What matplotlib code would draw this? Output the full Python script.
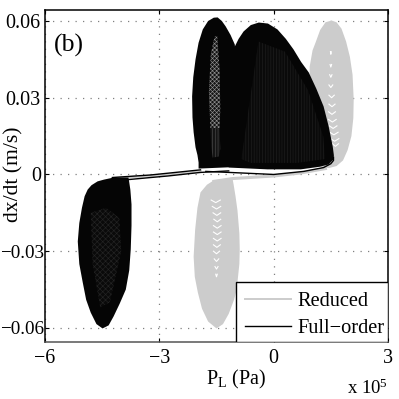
import matplotlib
matplotlib.use("Agg")
import matplotlib.pyplot as plt
from matplotlib.patches import Rectangle
from matplotlib.transforms import ScaledTranslation

plt.rcParams['font.family'] = ['Liberation Serif', 'DejaVu Serif']
plt.rcParams['mathtext.fontset'] = 'custom'
plt.rcParams['mathtext.rm'] = 'Liberation Serif'
plt.rcParams['mathtext.default'] = 'rm'
plt.rcParams['hatch.linewidth'] = 0.45

x_ticks = [-6, -3, 0, 3]
x_tick_labels = ['\u22126', '\u22123', '0', '3']
y_ticks = [-0.06, -0.03, 0, 0.03, 0.06]
y_tick_labels = ['\u22120.06', '\u22120.03', '0', '0.03', '0.06']

# Envelope outlines of the phase portraits (x in 1e5 Pa, y in m/s)
gray_up_x = [1.52, 1.65, 1.78, 1.90, 2.00, 2.07, 2.10, 2.09, 2.04, 1.94, 1.82, 1.65, 1.45, 1.20, 0.95, 0.95, 0.94, 0.945, 1.02, 1.10, 1.22, 1.36]
gray_up_y = [0.0602, 0.0595, 0.0570, 0.0520, 0.0460, 0.0390, 0.0293, 0.0220, 0.0150, 0.0095, 0.0055, 0.0033, 0.0025, 0.0030, 0.0080, 0.0150, 0.0300, 0.0422, 0.0485, 0.0516, 0.0565, 0.0595]
gray_lo_x = [-1.08, -1.30, -1.57, -1.75, -1.92, -2.00, -2.06, -2.10, -2.07, -1.99, -1.88, -1.72, -1.50, -1.33, -1.18, -1.04, -0.97, -0.90, -0.89, -0.90, -0.95, -1.00, -1.05]
gray_lo_y = [-0.0016, -0.0018, -0.0023, -0.0040, -0.0070, -0.0130, -0.0215, -0.0321, -0.0400, -0.0461, -0.0525, -0.0575, -0.0602, -0.0585, -0.0545, -0.0490, -0.0450, -0.0350, -0.0293, -0.0230, -0.0140, -0.0086, -0.0040]
black_lo_x = [-3.81, -4.00, -4.23, -4.45, -4.62, -4.78, -4.88, -4.96, -5.03, -5.10, -5.14, -5.10, -5.01, -4.92, -4.80, -4.65, -4.49, -4.33, -4.20, -4.04, -3.88, -3.79, -3.75, -3.73, -3.73, -3.76, -3.79]
black_lo_y = [-0.0012, -0.0012, -0.0013, -0.0020, -0.0027, -0.0042, -0.0059, -0.0085, -0.0130, -0.0190, -0.0262, -0.0350, -0.0422, -0.0490, -0.0540, -0.0585, -0.0602, -0.0590, -0.0555, -0.0505, -0.0450, -0.0375, -0.0293, -0.0200, -0.0117, -0.0060, -0.0030]
black_mid_x = [-1.97, -1.97, -2.00, -2.05, -2.10, -2.13, -2.14, -2.11, -2.05, -1.97, -1.86, -1.72, -1.57, -1.47, -1.36, -1.26, -1.13, -1.02, -0.90, -0.95, -1.18]
black_mid_y = [0.0023, 0.0047, 0.0076, 0.0106, 0.0165, 0.0223, 0.0305, 0.0380, 0.0450, 0.0515, 0.0567, 0.0600, 0.0613, 0.0614, 0.0600, 0.0579, 0.0545, 0.0508, 0.0300, 0.0040, 0.0028]
black_big_x = [-1.18, -1.13, -1.08, -1.02, -0.92, -0.79, -0.60, -0.39, -0.15, 0.10, 0.32, 0.52, 0.72, 0.92, 1.12, 1.31, 1.44, 1.55, 1.58, 1.57, 1.44, 1.20, 0.71, -0.16]
black_big_y = [0.0027, 0.0200, 0.0400, 0.0500, 0.0530, 0.0559, 0.0584, 0.0594, 0.0590, 0.0567, 0.0530, 0.0489, 0.0440, 0.0399, 0.0335, 0.0266, 0.0190, 0.0109, 0.0075, 0.0059, 0.0039, 0.0030, 0.0020, 0.0020]

# Open centres of the black portraits
mid_hole_x = [-1.55, -1.48, -1.42, -1.40, -1.42, -1.66, -1.70, -1.65]
mid_hole_y = [0.0540, 0.0540, 0.0411, 0.0254, 0.0180, 0.0180, 0.0320, 0.0470]
mid_tail_x = [-1.42, -1.40, -1.44, -1.60, -1.64, -1.66]
mid_tail_y = [0.0180, 0.0100, 0.0070, 0.0066, 0.0110, 0.0180]
big_core_x = [-0.85, -0.40, 0.30, 0.90, 1.30, 1.35, 0.60, -0.60]
big_core_y = [0.0060, 0.0520, 0.0480, 0.0330, 0.0150, 0.0060, 0.0045, 0.0045]
low_core_x = [-4.80, -4.40, -4.05, -4.00, -4.30, -4.55, -4.75]
low_core_y = [-0.0150, -0.0130, -0.0170, -0.0300, -0.0500, -0.0520, -0.0350]

# White gaps between the loops of the gray portraits
up_gap_y = [0.0470, 0.0420, 0.0380, 0.0340, 0.0300, 0.0265, 0.0235, 0.0205, 0.0180, 0.0155, 0.0130, 0.0110]
up_gap_x = [1.50, 1.50, 1.50, 1.50, 1.52, 1.53, 1.53, 1.54, 1.56, 1.58, 1.60, 1.62]
up_gap_w = [0.01, 0.02, 0.03, 0.05, 0.07, 0.08, 0.09, 0.10, 0.10, 0.11, 0.11, 0.08]
lo_gap_y = [-0.0110, -0.0135, -0.0160, -0.0185, -0.0210, -0.0235, -0.0260, -0.0285, -0.0310, -0.0340, -0.0370, -0.0400]
lo_gap_x = [-1.52, -1.50, -1.49, -1.48, -1.48, -1.48, -1.48, -1.49, -1.50, -1.50, -1.50, -1.50]
lo_gap_w = [0.12, 0.11, 0.10, 0.09, 0.10, 0.10, 0.10, 0.09, 0.08, 0.06, 0.04, 0.02]

# Thin sliding sections of the trajectories
gray_r_x = [-1.57, -1.08, 0, 0.71, 1.36]
gray_r_y = [-0.0027, -0.0016, -0.0006, 0.0006, 0.0023]
gray_l_x = [-4.23, -3.23, -1.92]
gray_l_y = [-0.0014, -0.0006, 0.0012]
black1_x = [-3.81, -3.23, -2.78, -1.92, -1.18]
black1_y = [-0.0020, -0.0012, -0.0006, 0.0008, 0.0014]
black2_x = [-4.23, -3.23, -1.92]
black2_y = [-0.0012, -0.0002, 0.0018]
black3_x = [-1.78, -0.87, 0, 0.79, 1.31, 1.50, 1.57, 1.57]
black3_y = [0.0012, 0.0006, 0, 0.0012, 0.0027, 0.0042, 0.0055, 0.0067]

GRAY = '#cccccc'
INK = '#050505'

fig = plt.figure(figsize=(3.99, 3.99), dpi=100)
ax = fig.add_axes([45 / 399, 57 / 399, 343 / 399, 332 / 399])
ax.set_xlim(-6, 3)
ax.set_ylim(-0.0655, 0.0643)

ax.grid(True, color='#808080', linestyle=(0, (1, 5)), linewidth=0.9)
ax.set_axisbelow(True)
ax.set_xticks(x_ticks, x_tick_labels)
ax.set_yticks(y_ticks, y_tick_labels)
ax.tick_params(direction='in', length=3, width=0.8, labelsize=14.4, pad=5, top=True, right=True)
ax.tick_params(axis='y', pad=3)
for lab, val in zip(ax.get_yticklabels(), y_ticks):
    if val < 0:
        lab.set_fontsize(13.8)
        lab.set_transform(lab.get_transform() + ScaledTranslation(3.5 / 100, 0, fig.dpi_scale_trans))
for s in ax.spines.values():
    s.set_linewidth(1.1)
ax.spines['bottom'].set_color('#555555')

ax.fill(gray_up_x, gray_up_y, color=GRAY, lw=0, zorder=2)
ax.fill(gray_lo_x, gray_lo_y, color=GRAY, lw=0, zorder=2)
for xs, ys, ws in ((up_gap_x, up_gap_y, up_gap_w), (lo_gap_x, lo_gap_y, lo_gap_w)):
    for cx, cy, w in zip(xs, ys, ws):
        ax.plot([cx - w, cx, cx + w], [cy + 0.0010, cy, cy + 0.0010], color='white', lw=0.8, zorder=2.2)
ax.plot(gray_r_x, gray_r_y, color=GRAY, lw=2.2, zorder=2.5)
ax.plot(gray_l_x, gray_l_y, color=GRAY, lw=1.6, zorder=2.5)

ax.fill(black_lo_x, black_lo_y, color=INK, lw=0, zorder=3)
ax.fill(black_big_x, black_big_y, color=INK, lw=0, zorder=3)
ax.fill(black_mid_x, black_mid_y, color=INK, lw=0, zorder=3)
ax.fill(big_core_x, big_core_y, facecolor='#0a0a0a', edgecolor='#1f1f1f', hatch='||||||', lw=0, zorder=3.1)
ax.fill(low_core_x, low_core_y, facecolor='#0a0a0a', edgecolor='#242424', hatch='xxxxxx', lw=0, zorder=3.1)
ax.fill(mid_hole_x, mid_hole_y, facecolor='#141414', edgecolor='#8c8c8c', hatch='xxxxxxxx', lw=0, zorder=3.2)
ax.fill(mid_tail_x, mid_tail_y, facecolor='#141414', edgecolor='#4c4c4c', hatch='||||||', lw=0, zorder=3.2)

ax.plot(black1_x, black1_y, color='black', lw=1.0, zorder=4)
ax.plot(black2_x, black2_y, color='black', lw=1.0, zorder=4)
ax.plot(black3_x, black3_y, color='black', lw=1.0, zorder=4)

# Legend: white box with black edge, entries placed inside it
ax.add_patch(Rectangle(((236 - 45) / 343, 0), (388 - 236) / 343, 60 / 332, transform=ax.transAxes,
                       facecolor='white', edgecolor='black', lw=1.0, zorder=9))
ax.plot([], [], color=GRAY, lw=1.4, label='Reduced')
ax.plot([], [], color='black', lw=1.0, label='Full\u2212order')
leg = ax.legend(loc='lower left', bbox_to_anchor=((245 - 45) / 343, 4 / 332), borderaxespad=0, borderpad=0,
                fontsize=14.7, frameon=False, handlelength=2.25, handletextpad=0.3, labelspacing=0.37)
leg.set_zorder(10)

fig.text(54 / 399, 1 - 45 / 399, '(b)', fontsize=18.5, va='center', ha='left')
fig.text(14 / 399, 1 - 174 / 399, 'dx/dt (m/s)', fontsize=15.6, rotation=90, va='center', ha='center')
fig.text(236 / 399, 1 - 379 / 399, 'P$_{\\mathrm{L}}$ (Pa)', fontsize=14.4, va='center', ha='center')
fig.text(347 / 399, 1 - 388 / 399, 'x 10$^{5}$', fontsize=13.5, va='center', ha='left')

fig.savefig('out.png', dpi=100)
